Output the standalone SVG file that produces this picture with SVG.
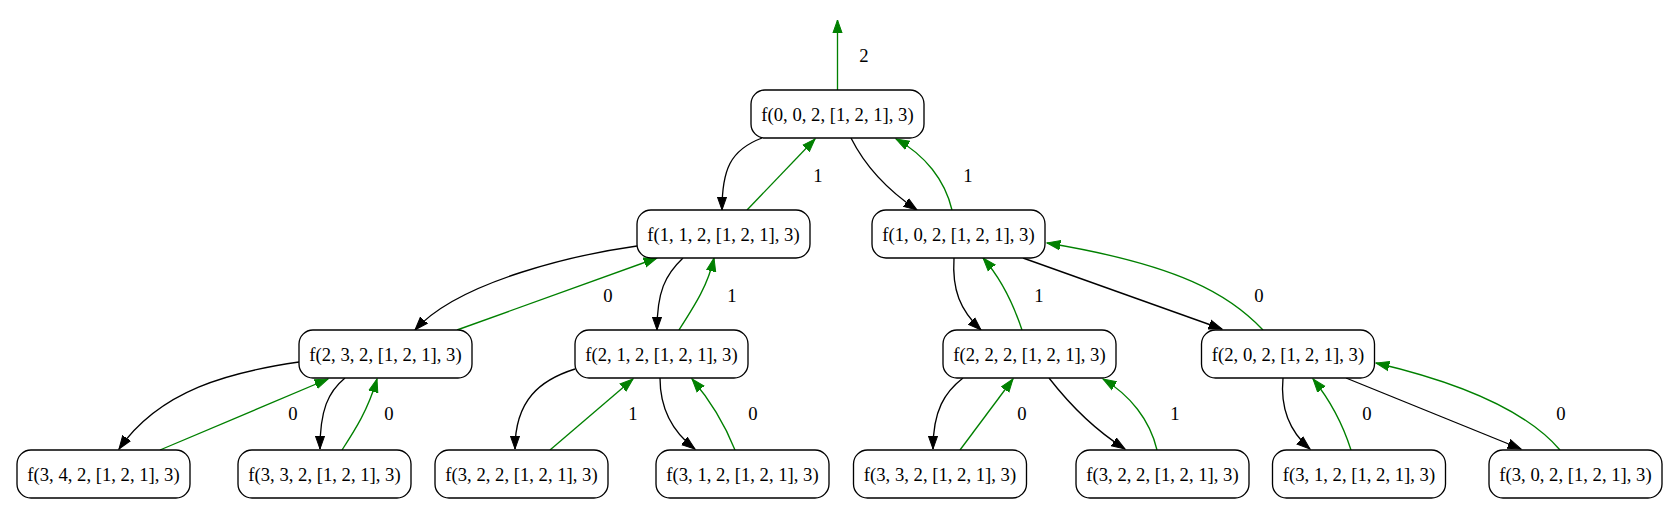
<svg xmlns="http://www.w3.org/2000/svg" width="1663" height="510" viewBox="0 0 1663 510">
<style>
.n rect{fill:#fff;stroke:#000;stroke-width:1.33}
.n text,.lb{font-family:"Liberation Serif","Times New Roman",serif;font-size:18.67px;fill:#000;text-anchor:middle}
.k{fill:none;stroke:#000;stroke-width:1.33;marker-end:url(#ak)}
.g{fill:none;stroke:#008000;stroke-width:1.33;marker-end:url(#ag)}
</style>
<defs>
<marker id="ak" markerUnits="userSpaceOnUse" markerWidth="16" markerHeight="12" refX="13.3" refY="5" orient="auto" viewBox="0 0 16 10"><path d="M0,0.3 L13.3,5 L0,9.7 Z" fill="#000" stroke="#000" stroke-width="1"/></marker>
<marker id="ag" markerUnits="userSpaceOnUse" markerWidth="16" markerHeight="12" refX="13.3" refY="5" orient="auto" viewBox="0 0 16 10"><path d="M0,0.3 L13.3,5 L0,9.7 Z" fill="#008000" stroke="#008000" stroke-width="1"/></marker>
</defs>
<rect width="1663" height="510" fill="#fff"/>
<g id="edges">
<path class="g" d="M837.5,90 L837.5,20"/>
<path class="k" d="M762,138 C730,150 722,170 722,210"/>
<path class="g" d="M747,210 L815,139"/>
<path class="k" d="M851,138 C862,160 880,185 917,210"/>
<path class="g" d="M952,210 C945,180 925,155 896,139"/>
<path class="k" d="M637,246 C580,254 460,280 415,330"/>
<path class="g" d="M457,330 L657,258"/>
<path class="k" d="M683,258 C665,275 657,292 657,330"/>
<path class="g" d="M679,330 C695,305 708,285 714,258"/>
<path class="k" d="M954,258 C952,290 960,310 981,330"/>
<path class="g" d="M1022,330 C1012,300 998,275 983,258"/>
<path class="k" d="M1023,258 L1222,329"/>
<path class="g" d="M1263,330 C1230,295 1180,265 1047,243"/>
<path class="k" d="M299,362 C230,372 160,390 119,449"/>
<path class="g" d="M160,450 L328,379"/>
<path class="k" d="M345,378 C328,392 320,410 320,449"/>
<path class="g" d="M342,450 C355,430 368,410 377,379"/>
<path class="k" d="M575,369 C540,380 515,400 515,449"/>
<path class="g" d="M550,450 L633,379"/>
<path class="k" d="M660,378 C660,405 670,430 695,449"/>
<path class="g" d="M735,450 C725,425 710,400 692,379"/>
<path class="k" d="M963,378 C945,392 933,410 933,449"/>
<path class="g" d="M960,450 L1013,379"/>
<path class="k" d="M1049,378 C1070,405 1095,430 1125,449"/>
<path class="g" d="M1157,450 C1150,420 1130,395 1103,379"/>
<path class="k" d="M1283,378 C1280,410 1290,432 1310,449"/>
<path class="g" d="M1351,450 C1343,425 1330,400 1313,379"/>
<path class="k" d="M1346,378 L1521,449"/>
<path class="g" d="M1560,450 C1530,415 1470,385 1376,363"/>
<text class="lb" x="864" y="61.5">2</text>
<text class="lb" x="818" y="181.5">1</text>
<text class="lb" x="968" y="181.5">1</text>
<text class="lb" x="608" y="301.5">0</text>
<text class="lb" x="732" y="301.5">1</text>
<text class="lb" x="1039" y="301.5">1</text>
<text class="lb" x="1259" y="301.5">0</text>
<text class="lb" x="293" y="419.5">0</text>
<text class="lb" x="389" y="419.5">0</text>
<text class="lb" x="633" y="419.5">1</text>
<text class="lb" x="753" y="419.5">0</text>
<text class="lb" x="1022" y="419.5">0</text>
<text class="lb" x="1175" y="419.5">1</text>
<text class="lb" x="1367" y="419.5">0</text>
<text class="lb" x="1561" y="419.5">0</text>
</g>
<g id="n0" class="n"><rect x="751" y="90" width="173" height="48" rx="14"/><text x="837.5" y="120.5">f(0, 0, 2, [1, 2, 1], 3)</text></g>
<g id="n11" class="n"><rect x="637" y="210" width="173" height="48" rx="14"/><text x="723.5" y="240.5">f(1, 1, 2, [1, 2, 1], 3)</text></g>
<g id="n10" class="n"><rect x="872" y="210" width="173" height="48" rx="14"/><text x="958.5" y="240.5">f(1, 0, 2, [1, 2, 1], 3)</text></g>
<g id="n23" class="n"><rect x="299" y="330" width="173" height="48" rx="14"/><text x="385.5" y="360.5">f(2, 3, 2, [1, 2, 1], 3)</text></g>
<g id="n21" class="n"><rect x="575" y="330" width="173" height="48" rx="14"/><text x="661.5" y="360.5">f(2, 1, 2, [1, 2, 1], 3)</text></g>
<g id="n22" class="n"><rect x="943" y="330" width="173" height="48" rx="14"/><text x="1029.5" y="360.5">f(2, 2, 2, [1, 2, 1], 3)</text></g>
<g id="n20" class="n"><rect x="1201.5" y="330" width="173" height="48" rx="14"/><text x="1288" y="360.5">f(2, 0, 2, [1, 2, 1], 3)</text></g>
<g id="n34" class="n"><rect x="17" y="450" width="173" height="48" rx="14"/><text x="103.5" y="480.5">f(3, 4, 2, [1, 2, 1], 3)</text></g>
<g id="n33a" class="n"><rect x="238" y="450" width="173" height="48" rx="14"/><text x="324.5" y="480.5">f(3, 3, 2, [1, 2, 1], 3)</text></g>
<g id="n32a" class="n"><rect x="435" y="450" width="173" height="48" rx="14"/><text x="521.5" y="480.5">f(3, 2, 2, [1, 2, 1], 3)</text></g>
<g id="n31a" class="n"><rect x="656" y="450" width="173" height="48" rx="14"/><text x="742.5" y="480.5">f(3, 1, 2, [1, 2, 1], 3)</text></g>
<g id="n33b" class="n"><rect x="853.5" y="450" width="173" height="48" rx="14"/><text x="940" y="480.5">f(3, 3, 2, [1, 2, 1], 3)</text></g>
<g id="n32b" class="n"><rect x="1076" y="450" width="173" height="48" rx="14"/><text x="1162.5" y="480.5">f(3, 2, 2, [1, 2, 1], 3)</text></g>
<g id="n31b" class="n"><rect x="1272.5" y="450" width="173" height="48" rx="14"/><text x="1359" y="480.5">f(3, 1, 2, [1, 2, 1], 3)</text></g>
<g id="n30" class="n"><rect x="1489" y="450" width="173" height="48" rx="14"/><text x="1575.5" y="480.5">f(3, 0, 2, [1, 2, 1], 3)</text></g>
</svg>
